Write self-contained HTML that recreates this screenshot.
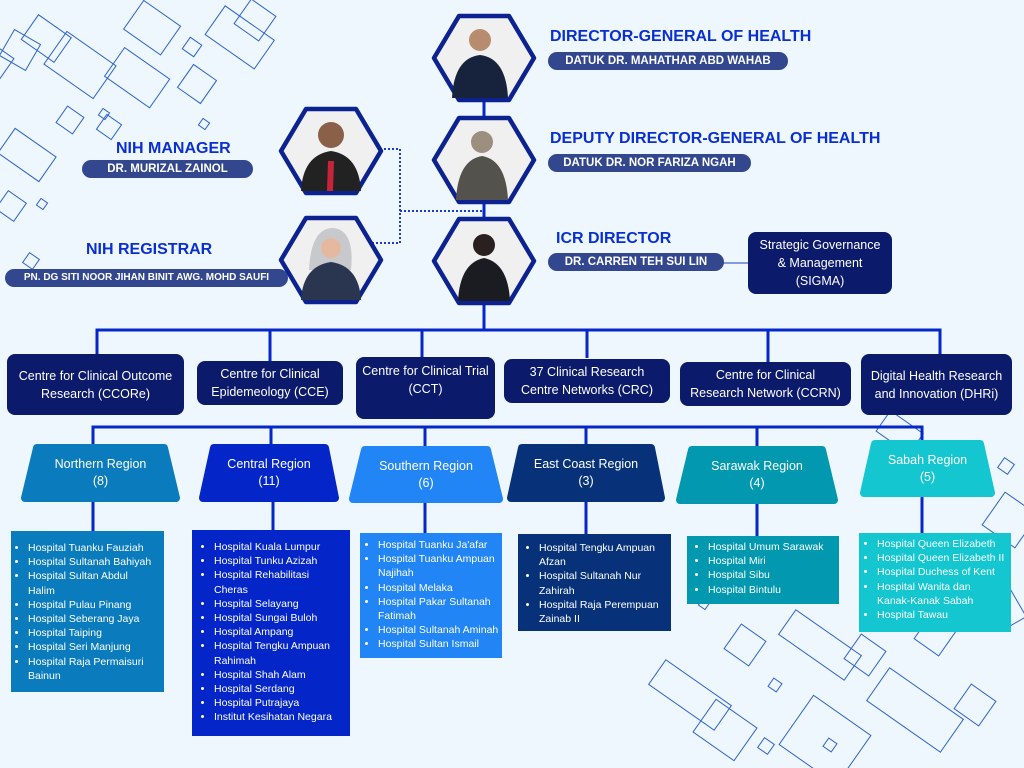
<!DOCTYPE html>
<html><head><meta charset="utf-8"><style>
*{margin:0;padding:0;box-sizing:border-box}
body{width:1024px;height:768px;overflow:hidden;background:#eef7fd;font-family:"Liberation Sans",sans-serif;position:relative}
.a{position:absolute}
.t{color:#0a2fd1;font-weight:bold;font-size:16px;white-space:nowrap}
.p{background:#33478f;color:#fff;font-weight:bold;font-size:11.5px;border-radius:10px;text-align:center;white-space:nowrap;line-height:18px}
.c{background:#0b1a6b;color:#fff;border-radius:8px;font-size:12.5px;line-height:18px;display:flex;align-items:center;justify-content:center;text-align:center}
.r{color:#fff;font-size:12.5px;line-height:17px;text-align:center}
.l{color:#fff;font-size:10.5px;line-height:14.2px;padding:4px 2px 4px 17px}
.l ul{list-style:disc;padding-left:0}
.l li{margin-left:0}
.nw{white-space:nowrap}
</style></head><body>
<svg class="a" style="left:0;top:0" width="1024" height="768">
<g fill="none" stroke="#2f62cc" stroke-width="1">
<g transform="rotate(35 0 0)">
<rect x="40" y="-10" width="40" height="30"/><rect x="10" y="40" width="35" height="30"/>
</g>
<rect x="5" y="35" width="30" height="30" transform="rotate(30 20 50)"/>
<rect x="50" y="45" width="60" height="40" transform="rotate(35 80 65)"/>
<rect x="110" y="60" width="55" height="35" transform="rotate(35 137 77)"/>
<rect x="130" y="10" width="45" height="35" transform="rotate(35 152 27)"/>
<rect x="185" y="40" width="14" height="14" transform="rotate(35 192 47)"/>
<rect x="100" y="118" width="18" height="18" transform="rotate(35 109 127)"/>
<rect x="60" y="110" width="20" height="20" transform="rotate(35 70 120)"/>
<rect x="183" y="70" width="28" height="28" transform="rotate(35 197 84)"/>
<rect x="210" y="20" width="60" height="35" transform="rotate(35 240 37)"/>
<rect x="240" y="5" width="30" height="30" transform="rotate(35 255 20)"/>
<rect x="2" y="140" width="50" height="30" transform="rotate(35 27 155)"/>
<rect x="38" y="200" width="8" height="8" transform="rotate(35 42 204)"/>
<rect x="0" y="195" width="22" height="22" transform="rotate(35 11 206)"/>
<rect x="200" y="120" width="8" height="8" transform="rotate(35 204 124)"/>
<rect x="100" y="110" width="8" height="8" transform="rotate(35 104 114)"/>
<rect x="25" y="255" width="12" height="12" transform="rotate(35 31 261)"/>
<rect x="880" y="420" width="40" height="25" transform="rotate(35 900 432)"/>
<rect x="1000" y="460" width="12" height="12" transform="rotate(35 1006 466)"/>
<rect x="990" y="500" width="40" height="40" transform="rotate(35 1010 520)"/>
<rect x="700" y="600" width="8" height="8" transform="rotate(35 704 604)"/>
<rect x="780" y="630" width="80" height="30" transform="rotate(35 820 645)"/>
<rect x="850" y="640" width="30" height="30" transform="rotate(35 865 655)"/>
<rect x="730" y="630" width="30" height="30" transform="rotate(35 745 645)"/>
<rect x="650" y="680" width="80" height="30" transform="rotate(35 690 695)"/>
<rect x="770" y="680" width="10" height="10" transform="rotate(35 775 685)"/>
<rect x="790" y="710" width="70" height="60" transform="rotate(35 825 740)"/>
<rect x="700" y="710" width="50" height="40" transform="rotate(35 725 730)"/>
<rect x="870" y="690" width="90" height="40" transform="rotate(35 915 710)"/>
<rect x="960" y="690" width="30" height="30" transform="rotate(35 975 705)"/>
<rect x="920" y="620" width="30" height="30" transform="rotate(35 935 635)"/>
<rect x="760" y="740" width="12" height="12" transform="rotate(35 766 746)"/>
<rect x="825" y="740" width="10" height="10" transform="rotate(35 830 745)"/>
<rect x="980" y="590" width="50" height="20" transform="rotate(60 1005 600)"/>
</g>
<g stroke="#0526c8" stroke-width="3" fill="none">
<line x1="484" y1="95" x2="484" y2="331"/>
<polyline points="97,356 97,330 940,330 940,356"/>
<line x1="270" y1="330" x2="270" y2="361"/>
<line x1="422" y1="330" x2="422" y2="357"/>
<line x1="587" y1="330" x2="587" y2="358"/>
<line x1="768" y1="330" x2="768" y2="362"/>
<polyline points="93,445 93,427 922,427 922,441"/>
<line x1="271" y1="427" x2="271" y2="445"/>
<line x1="425" y1="427" x2="425" y2="447"/>
<line x1="586" y1="427" x2="586" y2="445"/>
<line x1="757" y1="427" x2="757" y2="447"/>
<line x1="93" y1="500" x2="93" y2="531"/>
<line x1="273" y1="500" x2="273" y2="531"/>
<line x1="425" y1="500" x2="425" y2="534"/>
<line x1="586" y1="500" x2="586" y2="535"/>
<line x1="757" y1="500" x2="757" y2="537"/>
<line x1="922" y1="495" x2="922" y2="534"/>
</g>
<line x1="720" y1="263" x2="750" y2="263" stroke="#5b7fd6" stroke-width="1.5"/>
<polyline points="380,149 400,149 400,243 372,243" fill="none" stroke="#1a3cc8" stroke-width="2" stroke-dasharray="2,2"/>
<line x1="400" y1="211" x2="484" y2="211" stroke="#1a3cc8" stroke-width="2" stroke-dasharray="2,2"/>
<defs>
<g id="hx"><polygon points="-50,0 -25,-42 25,-42 50,0 25,42 -25,42" fill="#f0f0f0" stroke="#0b2290" stroke-width="4.5" stroke-linejoin="round"/></g>
</defs>
<g transform="translate(484,58)"><use href="#hx"/><circle cx="-4" cy="-18" r="11" fill="#b88c6e"/><path d="M-32,40 Q-30,0 -4,-3 Q22,0 24,40Z" fill="#17223d"/></g>
<g transform="translate(484,160)"><use href="#hx"/><circle cx="-2" cy="-18" r="11" fill="#9c8f80"/><path d="M-28,40 Q-26,0 -2,-4 Q22,0 24,40Z" fill="#54524c"/></g>
<g transform="translate(484,261)"><use href="#hx"/><circle cx="0" cy="-16" r="11" fill="#2a2020"/><path d="M-26,40 Q-24,2 0,-3 Q24,2 26,40Z" fill="#1b1b22"/></g>
<g transform="translate(331,151)"><use href="#hx"/><circle cx="0" cy="-16" r="13" fill="#8a6048"/><path d="M-30,40 Q-28,4 0,0 Q28,4 30,40Z" fill="#222"/><path d="M-3,10 L3,10 L2,40 L-4,40Z" fill="#c7243a"/></g>
<g transform="translate(331,260)"><use href="#hx"/><path d="M-22,10 Q-20,-32 2,-32 Q24,-30 20,10 Z" fill="#c8c9cd"/><circle cx="0" cy="-12" r="10" fill="#e5b9a0"/><path d="M-30,40 Q-28,6 0,2 Q28,6 30,40Z" fill="#2a3550"/></g>
<g stroke-linejoin="round" stroke-width="8">
<polygon points="37,448 164,448 176,498 25,498" fill="#0a7bbd" stroke="#0a7bbd"/>
<polygon points="214,448 325,448 335,498 203,498" fill="#0426c8" stroke="#0426c8"/>
<polygon points="365,450 487,450 499,499 353,499" fill="#2185f5" stroke="#2185f5"/>
<polygon points="522,448 651,448 661,498 511,498" fill="#07327a" stroke="#07327a"/>
<polygon points="692,450 822,450 834,500 680,500" fill="#0198b0" stroke="#0198b0"/>
<polygon points="875,444 980,444 991,493 864,493" fill="#14c6cf" stroke="#14c6cf"/>
</g>
</svg>

<div class="a t" style="left:550px;top:28px">DIRECTOR-GENERAL OF HEALTH</div>
<div class="a p" style="left:548px;top:52px;width:240px">DATUK DR. MAHATHAR ABD WAHAB</div>
<div class="a t" style="left:550px;top:130px">DEPUTY DIRECTOR-GENERAL OF HEALTH</div>
<div class="a p" style="left:548px;top:154px;width:203px">DATUK DR. NOR FARIZA NGAH</div>
<div class="a t" style="left:556px;top:230px">ICR DIRECTOR</div>
<div class="a p" style="left:548px;top:253px;width:176px">DR. CARREN TEH SUI LIN</div>
<div class="a t" style="left:116px;top:140px">NIH MANAGER</div>
<div class="a p" style="left:82px;top:160px;width:171px">DR. MURIZAL ZAINOL</div>
<div class="a t" style="left:86px;top:241px">NIH REGISTRAR</div>
<div class="a p" style="left:5px;top:269px;width:283px;font-size:10px">PN. DG SITI NOOR JIHAN BINIT AWG. MOHD SAUFI</div>

<div class="a c" style="left:748px;top:232px;width:144px;height:62px">Strategic Governance<br>&amp; Management<br>(SIGMA)</div>

<div class="a c" style="left:7px;top:354px;width:177px;height:61px">Centre for Clinical Outcome<br>Research (CCORe)</div>
<div class="a c" style="left:197px;top:361px;width:146px;height:44px">Centre for Clinical<br>Epidemeology (CCE)</div>
<div class="a c" style="left:356px;top:357px;width:139px;height:62px;align-items:flex-start;padding-top:5px">Centre for Clinical Trial<br>(CCT)</div>
<div class="a c" style="left:504px;top:359px;width:166px;height:44px">37 Clinical Research<br>Centre Networks (CRC)</div>
<div class="a c" style="left:680px;top:362px;width:171px;height:44px">Centre for Clinical<br>Research Network (CCRN)</div>
<div class="a c" style="left:861px;top:354px;width:151px;height:61px">Digital Health Research<br>and Innovation (DHRi)</div>

<div class="a r" style="left:21px;top:456px;width:159px">Northern Region<br>(8)</div>
<div class="a r" style="left:199px;top:456px;width:140px">Central Region<br>(11)</div>
<div class="a r" style="left:349px;top:458px;width:154px">Southern Region<br>(6)</div>
<div class="a r" style="left:507px;top:456px;width:158px">East Coast Region<br>(3)</div>
<div class="a r" style="left:676px;top:458px;width:162px">Sarawak Region<br>(4)</div>
<div class="a r" style="left:860px;top:452px;width:135px">Sabah Region<br>(5)</div>

<div class="a l" style="left:11px;top:531px;width:153px;height:161px;background:#0a7bbd;padding-top:10px"><ul><li>Hospital Tuanku Fauziah</li><li>Hospital Sultanah Bahiyah</li><li>Hospital Sultan Abdul<br>Halim</li><li>Hospital Pulau Pinang</li><li>Hospital Seberang Jaya</li><li>Hospital Taiping</li><li>Hospital Seri Manjung</li><li>Hospital Raja Permaisuri<br>Bainun</li></ul></div>
<div class="a l" style="left:192px;top:530px;width:158px;height:206px;background:#0426c8;padding-top:10px;padding-left:22px"><ul><li>Hospital Kuala Lumpur</li><li>Hospital Tunku Azizah</li><li>Hospital Rehabilitasi<br>Cheras</li><li>Hospital Selayang</li><li>Hospital Sungai Buloh</li><li>Hospital Ampang</li><li>Hospital Tengku Ampuan<br>Rahimah</li><li>Hospital Shah Alam</li><li>Hospital Serdang</li><li>Hospital Putrajaya</li><li class="nw">Institut Kesihatan Negara</li></ul></div>
<div class="a l" style="left:360px;top:533px;width:142px;height:125px;background:#2185f5;padding-top:5px;padding-left:18px;padding-right:0"><ul><li class="nw">Hospital Tuanku Ja'afar</li><li>Hospital Tuanku Ampuan<br>Najihah</li><li>Hospital Melaka</li><li>Hospital Pakar Sultanah<br>Fatimah</li><li class="nw">Hospital Sultanah Aminah</li><li class="nw">Hospital Sultan Ismail</li></ul></div>
<div class="a l" style="left:518px;top:534px;width:153px;height:97px;background:#07327a;padding-top:7px;padding-left:21px"><ul><li>Hospital Tengku Ampuan<br>Afzan</li><li>Hospital Sultanah Nur<br>Zahirah</li><li>Hospital Raja Perempuan<br>Zainab II</li></ul></div>
<div class="a l" style="left:687px;top:536px;width:152px;height:68px;background:#0198b0;padding-top:4px;padding-left:21px"><ul><li class="nw">Hospital Umum Sarawak</li><li>Hospital Miri</li><li>Hospital Sibu</li><li>Hospital Bintulu</li></ul></div>
<div class="a l" style="left:859px;top:533px;width:152px;height:99px;background:#14c6cf;padding-top:4px;padding-left:18px;padding-right:0"><ul><li class="nw">Hospital Queen Elizabeth</li><li class="nw">Hospital Queen Elizabeth II</li><li class="nw">Hospital Duchess of Kent</li><li>Hospital Wanita dan<br><span class="nw">Kanak-Kanak Sabah</span></li><li>Hospital Tawau</li></ul></div>
</body></html>
